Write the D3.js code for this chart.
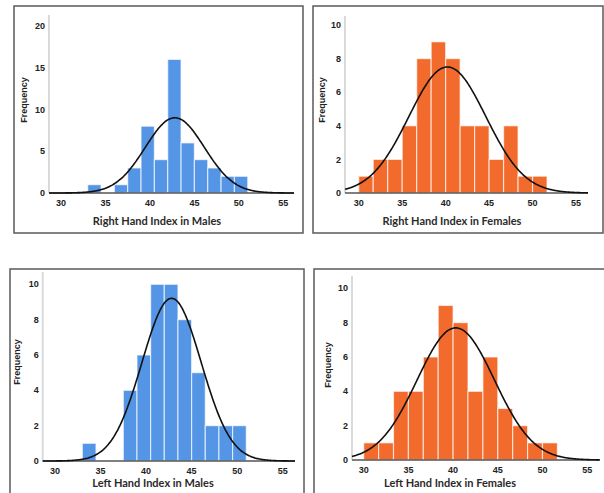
<!DOCTYPE html>
<html>
<head>
<meta charset="utf-8">
<script src="https://cdn.jsdelivr.net/npm/d3@7"></script>
<style>
  body { margin: 0; background: #fff; }
  svg { display: block; }
</style>
</head>
<body>
<div id="chart"></div>
<script>
// histogram counts
const rightMaleCounts   = [1, 0, 1, 3, 8, 4, 16, 6, 4, 3, 2, 2];
const rightFemaleCounts = [1, 2, 2, 4, 8, 9, 8, 4, 4, 2, 4, 1, 1];
const leftMaleCounts    = [1, 0, 0, 4, 6, 10, 10, 8, 5, 2, 2, 2];
const leftFemaleCounts  = [1, 1, 4, 4, 6, 9, 8, 4, 6, 3, 2, 1, 1];

// first bin edge and bin width of each histogram
const binStarts = [33, 30, 33, 30];
const binWidths = [1.5, 5 / 3, 1.5, 5 / 3];

// fitted normal curve (mean, sd) per panel
const curveMeans = [42.8, 40.2, 42.8, 40.3];
const curveSds   = [3.32, 4.43, 3.25, 4.32];

const xTicks = [30, 35, 40, 45, 50, 55];
const yTicksMale = [0, 5, 10, 15, 20];
const yTicksTen  = [0, 2, 4, 6, 8, 10];

const xTitles = ["Right Hand Index in Males", "Right Hand Index in Females",
                 "Left Hand Index in Males", "Left Hand Index in Females"];

const BLUE = "#5595e5";
const ORANGE = "#f26a2c";

// layout of each panel (frame box, plot ranges)
const panels = [
  { counts: rightMaleCounts, color: BLUE, yTicks: yTicksMale, yMax: 20,
    frame: [14, 6, 303, 233], xd: [28.65, 56.2], xr: [49, 294], yr: [193, 26], yTop: 15,
    titleX: 157, titleY: 225, freqX: 27, freqY: 100 },
  { counts: rightFemaleCounts, color: ORANGE, yTicks: yTicksTen, yMax: 10,
    frame: [313, 6, 603, 233], xd: [28.42, 56.38], xr: [345, 588], yr: [193, 25], yTop: 16,
    titleX: 452, titleY: 225, freqX: 325, freqY: 100 },
  { counts: leftMaleCounts, color: BLUE, yTicks: yTicksTen, yMax: 10,
    frame: [10, 269, 304, 500], xd: [28.65, 56.35], xr: [42.7, 295], yr: [461, 284.3], yTop: 272,
    titleX: 153, titleY: 487, freqX: 20, freqY: 362 },
  { counts: leftFemaleCounts, color: ORANGE, yTicks: yTicksTen, yMax: 10,
    frame: [314, 269, 610, 500], xd: [28.69, 56.4], xr: [352, 599.7], yr: [460, 288.3], yTop: 276,
    titleX: 450, titleY: 487, freqX: 331, freqY: 365 }
];

const width = 604, height = 493;
const svg = d3.select("#chart").append("svg")
  .attr("width", width)
  .attr("height", height)
  .style("font-family", "'Liberation Sans', Arial, sans-serif");

panels.forEach((p, i) => {
  const g = svg.append("g");
  const [fx0, fy0, fx1, fy1] = p.frame;

  // frame box
  g.append("rect")
    .attr("x", fx0).attr("y", fy0)
    .attr("width", fx1 - fx0).attr("height", fy1 - fy0)
    .attr("fill", "#fff")
    .attr("stroke", "#5a5a5a")
    .attr("stroke-width", 1.5);

  const x = d3.scaleLinear().domain(p.xd).range(p.xr);
  const y = d3.scaleLinear().domain([0, p.yMax]).range(p.yr);

  // y axis line (light grey)
  g.append("line")
    .attr("x1", p.xr[0]).attr("x2", p.xr[0])
    .attr("y1", y(0)).attr("y2", p.yTop)
    .attr("stroke", "#dadada")
    .attr("stroke-width", 2);

  // bars
  const bins = p.counts.map((c, k) => ({
    x0: binStarts[i] + k * binWidths[i],
    x1: binStarts[i] + (k + 1) * binWidths[i],
    count: c
  })).filter(d => d.count > 0);

  g.selectAll(".bar")
    .data(bins)
    .enter()
    .append("rect")
    .attr("class", "bar")
    .attr("x", d => x(d.x0))
    .attr("width", d => x(d.x1) - x(d.x0))
    .attr("y", d => y(d.count))
    .attr("height", d => y(0) - y(d.count))
    .attr("fill", p.color)
    .attr("stroke", "rgba(255,255,255,0.65)")
    .attr("stroke-width", 1.2);

  // x axis line
  g.append("line")
    .attr("x1", p.xr[0]).attr("x2", p.xr[1])
    .attr("y1", y(0)).attr("y2", y(0))
    .attr("stroke", "#555")
    .attr("stroke-width", 1.5);

  // normal curve
  const n = d3.sum(p.counts);
  const mu = curveMeans[i], sd = curveSds[i];
  const dens = v => n * binWidths[i] / (sd * Math.sqrt(2 * Math.PI)) *
    Math.exp(-0.5 * Math.pow((v - mu) / sd, 2));
  const xs = d3.range(p.xd[0], p.xd[1], 0.1).concat([p.xd[1]]);
  const line = d3.line()
    .x(v => x(v))
    .y(v => y(dens(v)))
    .curve(d3.curveBasis);
  g.append("path")
    .attr("d", line(xs))
    .attr("fill", "none")
    .attr("stroke", "#111")
    .attr("stroke-width", 1.6);

  // tick labels
  g.selectAll(".xt")
    .data(xTicks)
    .enter()
    .append("text")
    .attr("x", d => x(d))
    .attr("y", y(0) + 13)
    .attr("text-anchor", "middle")
    .attr("font-size", 9)
    .attr("font-weight", "bold")
    .attr("fill", "#222")
    .text(d => d);

  g.selectAll(".yt")
    .data(p.yTicks)
    .enter()
    .append("text")
    .attr("x", p.xr[0] - 4)
    .attr("y", d => y(d))
    .attr("dy", "0.35em")
    .attr("text-anchor", "end")
    .attr("font-size", 9)
    .attr("font-weight", "bold")
    .attr("fill", "#222")
    .text(d => d);

  // axis titles
  g.append("text")
    .attr("x", p.titleX)
    .attr("y", p.titleY)
    .attr("text-anchor", "middle")
    .attr("font-family", "Lato, 'Liberation Sans', sans-serif")
    .attr("font-size", 11)
    .attr("font-weight", "bold")
    .attr("fill", "#2a2a2a")
    .text(xTitles[i]);

  g.append("text")
    .attr("transform", `translate(${p.freqX}, ${p.freqY}) rotate(-90)`)
    .attr("text-anchor", "middle")
    .attr("font-size", 9)
    .attr("font-weight", "bold")
    .attr("fill", "#222")
    .text("Frequency");
});
</script>
</body>
</html>
